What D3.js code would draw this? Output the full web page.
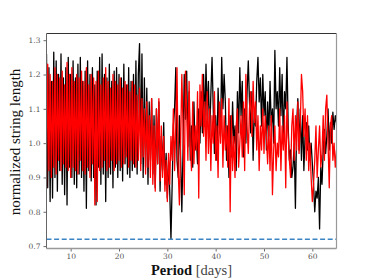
<!DOCTYPE html>
<html>
<head>
<meta charset="utf-8">
<script src="https://cdn.jsdelivr.net/npm/d3@7"></script>
<style>
  body { margin: 0; background: #fff; }
  svg { display: block; }
</style>
</head>
<body>
<div id="chart-container"></div>
<script>
// period grid: 5 to 65 days, 4 samples per day
const periods = d3.range(5, 65.001, 0.25)

// string length, one row per day (P = 5, 6, ... 65)
const blackSeries = [
  1.26, 0.87, 1.22, 0.83,  1.18, 0.84, 1.265, 0.90,  1.24, 0.86, 1.20, 0.92,  1.26, 0.88, 1.19, 0.85,
  1.22, 0.82, 1.25, 0.93,  1.20, 0.90, 1.24, 0.88,  1.19, 0.87, 1.23, 0.91,  1.25, 0.90, 1.18, 0.86,
  1.21, 0.81, 1.24, 0.92,  1.20, 0.89, 1.22, 0.90,  1.17, 0.82, 1.21, 0.93,  1.25, 0.88, 1.26, 0.91,
  1.20, 0.83, 1.19, 0.90,  1.23, 0.91, 1.18, 0.87,  1.21, 0.93, 1.22, 0.90,  1.20, 0.92, 1.19, 0.89,
  1.23, 0.94, 1.17, 0.91,  1.22, 0.90, 1.18, 0.92,  1.20, 0.93, 1.24, 0.91,  1.20, 1.29, 0.94, 1.26,
  0.90, 1.19, 0.93, 1.16,  0.88, 1.12, 0.95, 1.13,  0.91, 1.08, 0.87, 1.10,  0.94, 1.12, 0.86, 1.02,
  0.92, 1.06, 0.88, 0.97,  0.84, 0.95, 0.86, 0.72,  0.88, 1.05, 1.10, 1.22,  0.95, 0.90, 1.08, 0.96,
  0.80, 0.98, 1.20, 1.07,  1.21, 0.99, 1.15, 0.95,  1.05, 0.93, 1.12, 0.98,  1.02, 0.94, 1.10, 1.00,
  1.15, 1.03, 1.20, 1.05,  1.23, 1.08, 1.18, 1.02,  1.14, 1.25, 1.10, 0.97,  1.08, 0.95, 1.16, 1.05,
  1.02, 1.25, 1.10, 1.20,  1.12, 0.95, 1.05, 0.90,  1.08, 0.96, 1.12, 1.00,  1.05, 0.92, 1.15, 1.03,
  1.22, 1.08, 1.18, 0.96,  1.10, 1.00, 1.15, 1.24,  1.12, 1.03, 1.15, 0.95,  1.10, 1.05, 1.18, 1.25,
  1.12, 1.19, 1.05, 1.20,  1.08, 1.15, 0.98, 1.12,  1.02, 1.18, 1.05, 1.10,  1.00, 1.27, 1.10, 1.15,
  1.05, 1.22, 1.08, 1.20,  1.00, 1.15, 1.10, 1.25,  1.05, 0.95, 0.98, 0.90,  0.93, 1.00, 0.81, 1.05,
  1.13, 0.98, 1.10, 0.95,  1.08, 0.92, 1.02, 1.06,  0.98, 1.05, 0.95, 1.00,  0.94, 0.88, 0.80, 0.86,
  0.84, 0.90, 0.75, 0.93,  0.88, 0.98, 1.04, 0.97,  1.02, 1.10, 0.98, 1.06,  1.00, 1.09, 1.04, 1.08,
  1.06
]

const redSeries = [
  0.87, 1.23, 0.92, 1.20,  0.90, 1.18, 0.93, 1.22,  0.91, 1.20, 0.95, 1.19,  0.92, 1.21, 0.94, 1.17,
  0.93, 1.235, 0.92, 1.20,  0.90, 1.22, 0.93, 1.18,  0.92, 1.20, 0.91, 1.19,  0.95, 1.21, 0.92, 1.18,
  0.91, 1.22, 0.93, 1.17,  0.90, 1.20, 0.94, 1.19,  0.82, 1.18, 0.83, 1.21,  0.92, 1.17, 0.93, 1.19,
  0.95, 1.22, 0.92, 1.18,  0.93, 1.16, 0.95, 1.20,  0.92, 1.18, 0.94, 1.17,  0.95, 1.19, 0.93, 1.16,
  0.94, 1.18, 0.96, 1.17,  0.93, 1.15, 0.95, 1.18,  0.94, 1.17, 0.93, 1.14,  0.95, 1.16, 0.92, 1.13,
  0.96, 1.10, 0.91, 1.12,  0.93, 1.08, 0.90, 1.13,  0.88, 1.05, 0.86, 1.10,  0.94, 1.13, 0.89, 1.05,
  0.90, 1.02, 0.86, 0.95,  0.83, 0.97, 0.88, 1.02,  0.95, 1.10, 0.92, 1.05,  1.22, 0.92, 0.82, 1.00,
  1.20, 1.05, 0.85, 1.21,  1.10, 0.95, 1.18, 1.00,  0.92, 1.12, 0.94, 1.05,  0.98, 1.15, 0.84, 1.17,
  1.05, 1.20, 1.02, 1.12,  0.95, 1.15, 0.97, 1.10,  0.92, 1.08, 1.00, 1.15,  0.95, 1.05, 0.90, 1.12,
  1.00, 1.13, 0.93, 1.08,  0.98, 1.05, 0.93, 1.13,  0.80, 1.08, 0.92, 1.02,  0.90, 1.05, 1.10, 0.93,
  1.00, 1.08, 0.96, 1.12,  0.92, 1.20, 1.05, 0.97,  1.10, 1.15, 1.02, 1.18,  1.06, 1.12, 0.98, 1.08,
  0.92, 1.05, 0.98, 1.10,  0.97, 1.08, 1.02, 0.94,  1.05, 0.92, 1.08, 0.85,  0.98, 1.05, 0.92, 1.00,
  0.96, 1.10, 0.92, 1.05,  0.98, 1.08, 0.87, 1.12,  1.02, 0.95, 0.90, 1.05,  1.10, 0.95, 1.08, 0.98,
  1.12, 0.97, 1.05, 1.20,  1.15, 1.02, 1.10, 0.95,  1.08, 0.92, 1.00, 0.90,  0.83, 0.88, 0.95, 1.05,
  0.90, 0.98, 1.05, 0.93,  0.97, 1.08, 0.95, 1.10,  1.14, 1.00, 0.87, 1.05,  1.08, 0.95, 1.00, 0.93,
  0.98
]

const threshold = 0.72
const xTicks = [10, 20, 30, 40, 50, 60]
const yTicks = [0.7, 0.8, 0.9, 1.0, 1.1, 1.2, 1.3]

const W = 374, H = 280
const margin = {top: 33.5, right: 37.5, bottom: 31.5, left: 46.5}
const width = W - margin.left - margin.right
const height = H - margin.top - margin.bottom

const x = d3.scaleLinear().domain([5, 65]).range([0, width])
const y = d3.scaleLinear().domain([0.693, 1.3195]).range([height, 0])

const svg = d3.select("#chart-container")
    .append("svg")
    .attr("width", W)
    .attr("height", H)

const g = svg.append("g")
    .attr("transform", `translate(${margin.left},${margin.top})`)

g.append("clipPath").attr("id", "clip")
    .append("rect").attr("width", width).attr("height", height)

const line = d3.line()
    .x(d => x(d.p))
    .y(d => y(d.v))

const toPoints = vals => vals.map((v, i) => ({p: periods[i], v: v}))

const plot = g.append("g").attr("clip-path", "url(#clip)")

plot.append("path")
    .datum(toPoints(blackSeries))
    .attr("fill", "none")
    .attr("stroke", "#000")
    .attr("stroke-width", 1.3)
    .attr("stroke-linejoin", "round")
    .attr("d", line)

plot.append("path")
    .datum(toPoints(redSeries))
    .attr("fill", "none")
    .attr("stroke", "#ff0000")
    .attr("stroke-width", 1.3)
    .attr("stroke-linejoin", "round")
    .attr("d", line)

plot.append("line")
    .attr("x1", 0)
    .attr("x2", width)
    .attr("y1", y(threshold))
    .attr("y2", y(threshold))
    .attr("stroke", "#3a84c4")
    .attr("stroke-width", 1.6)
    .attr("stroke-dasharray", "5,2.6")

// axes
const xAxis = g.append("g")
    .attr("transform", `translate(0,${height})`)
    .call(d3.axisBottom(x).tickValues(xTicks).tickSize(3).tickPadding(2.5).tickFormat(d3.format("d")))
xAxis.select(".domain").remove()

const yAxis = g.append("g")
    .call(d3.axisLeft(y).tickValues(yTicks).tickSize(3).tickPadding(3).tickFormat(d3.format(".1f")))
yAxis.select(".domain").remove()

g.selectAll(".tick text")
    .attr("font-family", "'DejaVu Serif', 'Liberation Serif', serif")
    .attr("font-size", "7.5px")
    .attr("fill", "#555")
g.selectAll(".tick line")
    .attr("stroke", "#444")
    .attr("stroke-width", 0.8)

// frame
g.append("line").attr("x1", 0).attr("x2", width).attr("y1", 0).attr("y2", 0)
    .attr("stroke", "#333").attr("stroke-width", 1)
g.append("line").attr("x1", 0).attr("x2", 0).attr("y1", 0).attr("y2", height)
    .attr("stroke", "#666").attr("stroke-width", 1)
g.append("line").attr("x1", width).attr("x2", width).attr("y1", 0).attr("y2", height)
    .attr("stroke", "#999").attr("stroke-width", 1.2)
g.append("line").attr("x1", 0).attr("x2", width).attr("y1", height).attr("y2", height)
    .attr("stroke", "#999").attr("stroke-width", 1.5)

// labels
const xLabel = svg.append("text")
    .attr("x", margin.left + width / 2)
    .attr("y", 275)
    .attr("text-anchor", "middle")
    .attr("font-family", "'Liberation Serif', 'DejaVu Serif', serif")
    .attr("font-size", "14.5px")
    .attr("fill", "#111")
xLabel.append("tspan").attr("font-weight", "bold").text("Period")
xLabel.append("tspan").attr("fill", "#444").text(" [days]")

svg.append("text")
    .attr("transform", `translate(20,${margin.top + height / 2 + 1}) rotate(-90)`)
    .attr("text-anchor", "middle")
    .attr("font-family", "'Liberation Serif', 'DejaVu Serif', serif")
    .attr("font-size", "15px")
    .attr("fill", "#111")
    .text("normalized string length")
</script>
</body>
</html>
